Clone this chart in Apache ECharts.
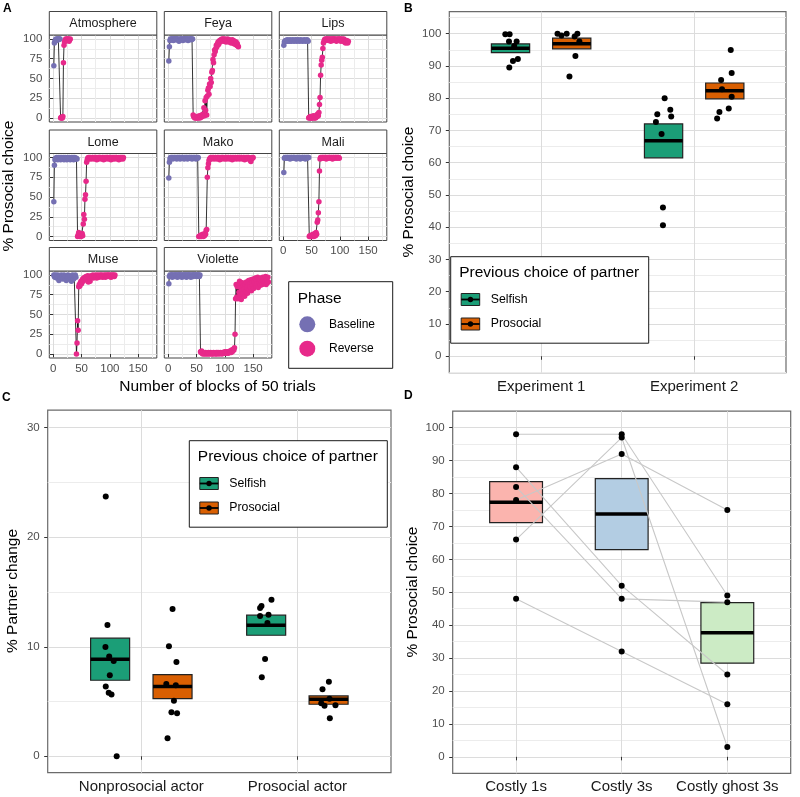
<!DOCTYPE html>
<html>
<head>
<meta charset="utf-8">
<script src="https://cdn.jsdelivr.net/npm/echarts@6.0.0/dist/echarts.min.js"></script>
<style>
  html, body { margin: 0; padding: 0; background: #fff; }
  #chart { width: 800px; height: 797px; }
</style>
</head>
<body>
<div id="chart"></div>
<script>
// ---------- A: % prosocial choice per block of 50 trials ----------
// each monkey: baseline blocks, then reverse blocks (block numbers run on)
const atmBase = [66, 95, 97, 99, 100, 98, 100, 100, 99, 100, 100, 100];
const atmRev = [0, 1, 0, 0, 2, 70, 92, 96, 98, 100, 99, 100, 98, 100, 100, 97, 99, 100];

const feyaBase = [72, 90, 98, 100, 100, 99, 100, 100, 98, 100,
  100, 100, 99, 100, 100, 100, 100, 98, 97, 99,
  100, 100, 100, 99, 100, 98, 100, 100, 100, 100,
  99, 100, 100, 100, 98, 100, 99, 100, 100, 100,
  99, 100, 100];
const feyaRev = [4, 2, 1, 0, 2, 0, 1, 0, 2, 0,
  1, 3, 0, 2, 1, 4, 2, 3, 5, 13,
  3, 22, 10, 26, 4, 28, 35, 38, 30, 43,
  40, 50, 45, 58, 60, 74, 70, 80, 86, 84,
  88, 92, 90, 94, 96, 93, 97, 98, 96, 99,
  98, 100, 99, 100, 97, 99, 100, 98, 96, 99,
  97, 100, 98, 96, 99, 97, 98, 95, 97, 99,
  96, 98, 94, 97, 95, 93, 96, 92, 94, 91,
  90];

const lipsBase = [92, 96, 97, 98, 97, 98, 99, 97, 98, 98,
  97, 99, 98, 97, 98, 98, 99, 98, 97, 98,
  98, 99, 98, 97, 98, 99, 98, 98, 97, 98,
  99, 98, 98, 97, 98, 98, 99, 98, 97, 98,
  98, 99, 98, 97];
const lipsRev = [0, 1, 0, 2, 0, 0, 1, 0, 3, 1, 0, 2, 0, 1, 4, 2, 5, 3,
  7, 17, 26, 54, 67, 73, 77, 88, 95,
  97, 99, 100, 98, 100, 99, 100, 100, 98, 99,
  100, 100, 97, 99, 100, 100, 98, 100, 99, 100,
  100, 98, 97, 99, 100, 100, 99, 98, 100, 100,
  97, 99, 100, 98, 99, 100, 96, 97, 95, 97,
  98, 96, 95, 97];

const lomeBase = [44, 90, 97, 99, 98, 100, 99, 97, 100, 98,
  99, 100, 97, 98, 100, 99, 98, 100, 97, 99,
  100, 98, 99, 97, 100, 98, 99, 100, 98, 97,
  99, 100, 98, 99, 100, 97, 98, 100, 99, 98,
  99, 98];
const lomeRev = [0, 2, 5, 1, 0, 3, 0, 2, 4, 1,
  16, 28, 22, 47, 53, 70, 94,
  97, 99, 100, 98, 100, 99, 100, 98, 99, 100,
  100, 99, 98, 100, 100, 99, 100, 97, 99, 100,
  98, 100, 100, 99, 100, 98, 99, 100, 100, 97,
  99, 100, 98, 100, 99, 100, 100, 98, 99, 100,
  100, 99, 97, 100, 98, 100, 99, 100, 98, 100,
  99, 100, 100, 98, 99, 100, 97, 99, 100, 98,
  100, 99, 100, 98, 100];

const makoBase = [74, 94, 98, 100, 99, 100, 100, 98, 100, 99,
  100, 100, 99, 100, 98, 100, 100, 99, 100, 100,
  98, 100, 99, 100, 100, 100, 99, 98, 100, 100,
  99, 100, 100, 98, 100, 99, 100, 100, 99, 100,
  100, 98, 100, 99, 100, 100, 99, 100, 98, 100,
  100, 99, 100];
const makoRev = [0, 0, 1, 0, 2, 0, 1, 3, 0, 2, 1, 4, 3, 8, 9,
  75, 87, 92,
  96, 98, 99, 100, 98, 100, 99, 100, 100, 98,
  99, 100, 100, 99, 98, 100, 100, 99, 100, 97,
  99, 100, 98, 100, 100, 99, 100, 98, 99, 100,
  100, 98, 100, 99, 100, 100, 98, 99, 100, 100,
  99, 97, 100, 100, 98, 99, 100, 100, 99, 98,
  100, 100, 99, 100, 98, 100, 99, 100, 100, 98,
  99, 100, 100, 97, 99, 100, 98, 100, 99, 100,
  100, 98, 99, 96, 95, 98, 100, 99, 100];

const maliBase = [81, 99, 100, 100, 99, 100, 100, 100, 99, 100,
  100, 98, 100, 100, 100, 99, 100, 100, 100, 100,
  99, 100, 98, 100, 100, 99, 100, 100, 100, 98,
  100, 99, 100, 100, 100, 99, 100, 100, 98, 100,
  100, 99, 100, 100, 100];
const maliRev = [0, 1, 0, 0, 2, 0, 1, 3, 0, 2, 4, 1, 5, 3,
  18, 21, 30, 44, 83,
  98, 100, 100, 99, 100, 100, 100, 99, 100, 100,
  100, 98, 100, 100, 99, 100, 100, 100, 100, 99,
  100, 100, 98, 100, 100, 100, 99, 100, 100, 100,
  99, 100, 100, 100, 99];

const museBase = [100, 98, 97, 100, 99, 96, 98, 100, 97, 93,
  99, 98, 96, 100, 97, 98, 95, 99, 100, 97,
  96, 98, 93, 99, 97, 100, 98, 96, 99, 97,
  94, 92, 98, 100, 97, 95, 99, 98, 100, 97];
const museRev = [0, 14, 42, 30, 85, 88, 86, 90, 92, 89,
  93, 95, 92, 96, 94, 97, 95, 98, 96, 97,
  99, 91, 97, 98, 92, 96, 99, 97, 98, 100,
  96, 98, 99, 97, 100, 98, 96, 99, 100, 98,
  97, 99, 100, 98, 99, 100, 97, 99, 98, 100,
  99, 97, 100, 99, 98, 100, 99, 100, 98, 99,
  100, 97, 99, 100, 98, 100, 99, 98, 100];

const violBase = [89, 98, 100, 99, 100, 100, 97, 100, 99, 100,
  98, 100, 100, 99, 100, 97, 100, 100, 98, 100,
  100, 100, 99, 97, 100, 100, 98, 100, 99, 100,
  100, 97, 100, 98, 100, 100, 99, 100, 100, 97,
  99, 100, 100, 98, 100, 100, 99, 100, 100, 98,
  100, 99, 100, 100, 98, 100];
const violRev = [3, 2, 4, 1, 0, 2, 1, 0, 1, 2,
  0, 1, 1, 0, 2, 1, 0, 1, 2, 1,
  0, 1, 0, 2, 1, 1, 0, 1, 2, 0,
  1, 2, 1, 0, 1, 2, 1, 1, 0, 2,
  1, 2, 1, 3, 2, 1, 2, 3, 2, 1,
  3, 2, 4, 3, 2, 5, 3, 4, 6, 5,
  8, 25, 70, 88,
  72, 85, 70, 88, 78, 92, 75, 84, 69, 80,
  90, 76, 86, 82, 73, 88, 79, 91, 84, 77,
  87, 93, 81, 89, 85, 94, 80, 90, 87, 95,
  83, 91, 88, 96, 86, 92, 89, 97, 84, 93,
  90, 95, 87, 96, 91, 88, 97, 93, 89, 95,
  92, 98, 88, 94, 90, 97, 91];

const aTicksX = [0, 50, 100, 150];
const aTicksY = [0, 25, 50, 75, 100];

// ---------- B: by experiment and previous choice of partner ----------
const bCats = ['Experiment 1', 'Experiment 2'];
const bSelfishStats = [[94.1, 95.5, 96.8], [61.5, 66.8, 72.0]];      // lower, middle, upper
const bProsocialStats = [[95.3, 96.9, 98.6], [79.8, 82.3, 84.7]];
const bExp1Selfish = [99.8, 99.8, 97.6, 97.6, 96.2, 92.1, 91.5, 89.5];
const bExp1SelfishJit = [-0.034, -0.006, -0.010, 0.040, 0.024, 0.048, 0.016, -0.008];
const bExp1Prosocial = [100, 99.4, 100, 100, 99.1, 97.6, 93.1, 86.7];
const bExp1ProsocialJit = [-0.093, -0.067, -0.033, 0.037, 0.019, 0.050, 0.024, -0.015];
const bExp2Selfish = [80.0, 75.0, 76.4, 72.6, 74.3, 68.9, 46.1, 40.6];
const bExp2SelfishJit = [0.007, -0.041, 0.044, -0.050, 0.050, -0.013, -0.004, -0.004];
const bExp2Prosocial = [94.9, 87.8, 85.6, 82.8, 80.4, 75.7, 76.8, 73.7];
const bExp2ProsocialJit = [0.039, 0.045, -0.024, -0.018, 0.045, -0.035, 0.026, -0.050];
const bTicksY = [0, 10, 20, 30, 40, 50, 60, 70, 80, 90, 100];

// ---------- C: % partner change ----------
const cCats = ['Nonprosocial actor', 'Prosocial actor'];
const cSelfishStats = [[6.94, 8.86, 10.78], [11.05, 11.96, 12.88]];
const cProsocialStats = [[5.26, 6.36, 7.45], [4.75, 5.21, 5.51]];
const cNonSelfish = [23.71, 11.99, 9.98, 9.10, 8.70, 7.40, 6.36, 5.81, 5.63, 0.0];
const cNonSelfishJit = [-0.028, -0.017, -0.030, -0.006, 0.023, -0.002, -0.028, -0.009, 0.009, 0.042];
const cNonProsocial = [13.45, 10.05, 8.61, 6.60, 6.48, 5.08, 4.02, 3.93, 1.64];
const cNonProsocialJit = [0.000, -0.023, 0.025, -0.040, 0.021, 0.009, -0.007, 0.029, -0.032];
const cProSelfish = [14.30, 13.73, 13.55, 12.81, 12.93, 12.17, 8.89, 7.21];
const cProSelfishJit = [0.034, -0.030, -0.039, -0.039, 0.015, 0.008, -0.007, -0.028];
const cProProsocial = [6.81, 6.12, 4.84, 4.62, 4.66, 5.26, 3.47];
const cProProsocialJit = [0.002, -0.039, -0.047, -0.026, 0.044, 0.006, 0.008];
const cTicksY = [0, 10, 20, 30];

// ---------- D: costly conditions, one line per individual ----------
const dCats = ['Costly 1s', 'Costly 3s', 'Costly ghost 3s'];
const dBoxStats = [[71.15, 77.35, 83.6], [62.95, 73.8, 84.5], [28.45, 37.66, 46.86]];
const dCostly1s = [98, 88, 82, 78, 66, 48];
const dCostly3s = [98, 52, 48, 92, 97, 32];
const dGhost3s = [49, 25, 47, 75, 3, 16];
const dTicksY = [0, 10, 20, 30, 40, 50, 60, 70, 80, 90, 100];

// ---------- styling ----------
const FONT = '"Liberation Sans", Arial, sans-serif';
const GRAY = '#4d4d4d';
const PURPLE = '#7570b3', PINK = '#e7298a';
const GREEN = '#1b9e77', ORANGE = '#d95f02';
const PASTEL = ['#fbb4ae', '#b3cde3', '#ccebc5'];

const facets = [
  { name: 'Atmosphere', base: atmBase, rev: atmRev },
  { name: 'Feya', base: feyaBase, rev: feyaRev },
  { name: 'Lips', base: lipsBase, rev: lipsRev },
  { name: 'Lome', base: lomeBase, rev: lomeRev },
  { name: 'Mako', base: makoBase, rev: makoRev },
  { name: 'Mali', base: maliBase, rev: maliRev },
  { name: 'Muse', base: museBase, rev: museRev },
  { name: 'Violette', base: violBase, rev: violRev }
];

function mkAxis(gridIndex, min, max, step, ticks, o) {
  o = o || {};
  const ax = {
    type: 'value', gridIndex: gridIndex, min: min, max: max,
    minInterval: step, maxInterval: step, splitNumber: Math.round((max - min) / step),
    axisLine: { show: false },
    axisTick: { show: !!o.labels, length: 3.5, customValues: ticks, lineStyle: { color: '#333', width: 1 } },
    axisLabel: {
      show: !!o.labels, customValues: ticks, fontSize: o.fontSize || 11.5, fontFamily: FONT,
      color: o.color || GRAY, margin: o.margin || 8
    },
    splitLine: { show: true, lineStyle: { color: '#dcdcdc', width: 1 } },
    minorTick: { show: false, splitNumber: 2 },
    minorSplitLine: { show: !!o.minor, lineStyle: { color: '#ececec', width: 1 } }
  };
  if (o.formatter) ax.axisLabel.formatter = o.formatter;
  return ax;
}

function boxRenderer(halfW, fills) {
  return function (params, api) {
    const x = api.value(0);
    const p1 = api.coord([x - halfW, api.value(3)]);
    const p2 = api.coord([x + halfW, api.value(1)]);
    const m1 = api.coord([x - halfW, api.value(2)]);
    const m2 = api.coord([x + halfW, api.value(2)]);
    return {
      type: 'group',
      children: [
        { type: 'rect', shape: { x: p1[0], y: p1[1], width: p2[0] - p1[0], height: p2[1] - p1[1] },
          style: { fill: fills[params.dataIndex % fills.length], stroke: '#222', lineWidth: 1.2 } },
        { type: 'line', shape: { x1: m1[0], y1: m1[1], x2: m2[0], y2: m2[1] },
          style: { stroke: '#000', lineWidth: 3.5 } }
      ]
    };
  };
}

function jitterPts(center, vals, jit) {
  return vals.map((v, k) => [center + jit[k], v]);
}

const grids = [], xAxes = [], yAxes = [], series = [], graphics = [];

// ---- panel A facets ----
const colLeft = [49.3, 164.3, 279.3], rowTop = [35, 153.5, 271];
const FW = 107.5, FH = 87, STRIP = 23.5;
const xLabelFacets = [5, 6, 7];

facets.forEach((f, i) => {
  const r = Math.floor(i / 3), c = i % 3;
  const left = colLeft[c], top = rowTop[r];
  grids.push({ left: left, top: top, width: FW, height: FH, show: true, backgroundColor: '#fff',
    borderColor: '#444', borderWidth: 1, containLabel: false, outerBoundsMode: 'none' });
  xAxes.push(mkAxis(i, -7, 183, 50, aTicksX, { labels: xLabelFacets.indexOf(i) >= 0, minor: true, margin: 4.5 }));
  yAxes.push(mkAxis(i, -5, 105, 25, aTicksY, { labels: c === 0, minor: true, margin: 7 }));
  const baseData = f.base.map((v, k) => [k + 1, v]);
  const revData = f.rev.map((v, k) => [f.base.length + k + 1, v]);
  series.push({ type: 'line', xAxisIndex: i, yAxisIndex: i, data: baseData.concat(revData),
    symbol: 'none', lineStyle: { color: '#000', width: 0.8 }, z: 2, silent: true });
  series.push({ type: 'scatter', name: 'Baseline', xAxisIndex: i, yAxisIndex: i, data: baseData,
    symbolSize: 5.5, itemStyle: { color: PURPLE, opacity: 1 }, z: 3, silent: true });
  series.push({ type: 'scatter', name: 'Reverse', xAxisIndex: i, yAxisIndex: i, data: revData,
    symbolSize: 5.5, itemStyle: { color: PINK, opacity: 1 }, z: 3, silent: true });
  // strip
  graphics.push({ type: 'rect', shape: { x: left, y: top - STRIP, width: FW, height: STRIP },
    style: { fill: '#fff', stroke: '#444', lineWidth: 1 }, z: 20 });
  graphics.push({ type: 'text', x: left + FW / 2, y: top - STRIP / 2 + 0.5, z: 21,
    style: { text: f.name, fontSize: 12.5, fontFamily: FONT, fill: '#1a1a1a', align: 'center', verticalAlign: 'middle' } });
});

// ---- panel B ----
const PANEL_BORDER = '#6b6b6b';
grids.push({ left: 449.3, top: 11.7, width: 336.7, height: 361, show: true, backgroundColor: '#fff',
  borderColor: PANEL_BORDER, borderWidth: 1.2, containLabel: false, outerBoundsMode: 'none' });
xAxes.push(mkAxis(8, 0.4, 2.6, 1, [1, 2], { labels: true, fontSize: 15, color: '#1a1a1a', margin: 6.5,
  formatter: v => bCats[Math.round(v) - 1] }));
yAxes.push(mkAxis(8, -5.1, 106.8, 10, bTicksY, { labels: true, minor: true, margin: 8 }));
series.push({ type: 'custom', xAxisIndex: 8, yAxisIndex: 8, renderItem: boxRenderer(0.125, [GREEN]), z: 2,
  data: bSelfishStats.map((s, k) => [k + 1 - 0.2, s[0], s[1], s[2]]), silent: true });
series.push({ type: 'custom', xAxisIndex: 8, yAxisIndex: 8, renderItem: boxRenderer(0.125, [ORANGE]), z: 2,
  data: bProsocialStats.map((s, k) => [k + 1 + 0.2, s[0], s[1], s[2]]), silent: true });
series.push({ type: 'scatter', xAxisIndex: 8, yAxisIndex: 8, symbolSize: 6, itemStyle: { color: '#000', opacity: 1 }, z: 5, silent: true,
  data: [].concat(
    jitterPts(0.8, bExp1Selfish, bExp1SelfishJit),
    jitterPts(1.2, bExp1Prosocial, bExp1ProsocialJit),
    jitterPts(1.8, bExp2Selfish, bExp2SelfishJit),
    jitterPts(2.2, bExp2Prosocial, bExp2ProsocialJit)) });

// ---- panel C ----
grids.push({ left: 47.7, top: 410.2, width: 343.3, height: 362.5, show: true, backgroundColor: '#fff',
  borderColor: PANEL_BORDER, borderWidth: 1.2, containLabel: false, outerBoundsMode: 'none' });
xAxes.push(mkAxis(9, 0.4, 2.6, 1, [1, 2], { labels: true, fontSize: 15, color: '#1a1a1a', margin: 6.5,
  formatter: v => cCats[Math.round(v) - 1] }));
yAxes.push(mkAxis(9, -1.5, 31.6, 10, cTicksY, { labels: true, minor: true, margin: 8 }));
series.push({ type: 'custom', xAxisIndex: 9, yAxisIndex: 9, renderItem: boxRenderer(0.125, [GREEN]), z: 2,
  data: cSelfishStats.map((s, k) => [k + 1 - 0.2, s[0], s[1], s[2]]), silent: true });
series.push({ type: 'custom', xAxisIndex: 9, yAxisIndex: 9, renderItem: boxRenderer(0.125, [ORANGE]), z: 2,
  data: cProsocialStats.map((s, k) => [k + 1 + 0.2, s[0], s[1], s[2]]), silent: true });
series.push({ type: 'scatter', xAxisIndex: 9, yAxisIndex: 9, symbolSize: 6, itemStyle: { color: '#000', opacity: 1 }, z: 5, silent: true,
  data: [].concat(
    jitterPts(0.8, cNonSelfish, cNonSelfishJit),
    jitterPts(1.2, cNonProsocial, cNonProsocialJit),
    jitterPts(1.8, cProSelfish, cProSelfishJit),
    jitterPts(2.2, cProProsocial, cProProsocialJit)) });

// ---- panel D ----
grids.push({ left: 452.7, top: 411.2, width: 338, height: 362.1, show: true, backgroundColor: '#fff',
  borderColor: PANEL_BORDER, borderWidth: 1.2, containLabel: false, outerBoundsMode: 'none' });
xAxes.push(mkAxis(10, 0.4, 3.6, 1, [1, 2, 3], { labels: true, fontSize: 15, color: '#1a1a1a', margin: 6.5,
  formatter: v => dCats[Math.round(v) - 1] }));
yAxes.push(mkAxis(10, -5, 105, 10, dTicksY, { labels: true, minor: true, margin: 8 }));
series.push({ type: 'custom', xAxisIndex: 10, yAxisIndex: 10, renderItem: boxRenderer(0.25, PASTEL), z: 2,
  data: dBoxStats.map((s, k) => [k + 1, s[0], s[1], s[2]]), silent: true });
dCostly1s.forEach((v, k) => {
  series.push({ type: 'line', xAxisIndex: 10, yAxisIndex: 10, symbol: 'none', z: 3, silent: true,
    lineStyle: { color: '#c8c8c8', width: 1.1 },
    data: [[1, v], [2, dCostly3s[k]], [3, dGhost3s[k]]] });
});
series.push({ type: 'scatter', xAxisIndex: 10, yAxisIndex: 10, symbolSize: 6, itemStyle: { color: '#000', opacity: 1 }, z: 5, silent: true,
  data: [].concat(dCostly1s.map(v => [1, v]), dCostly3s.map(v => [2, v]), dGhost3s.map(v => [3, v])) });

// ---- text, legends ----
function txt(x, y, s, size, o) {
  o = o || {};
  return { type: 'text', x: x, y: y, rotation: o.rot || 0, z: 30,
    style: { text: s, fontSize: size, fontFamily: FONT, fontWeight: o.bold ? 'bold' : 'normal',
      fill: o.color || '#000', align: o.align || 'center', verticalAlign: 'middle' } };
}

graphics.push(txt(3, 9, 'A', 12, { bold: true, align: 'left' }));
graphics.push(txt(404, 8.5, 'B', 12, { bold: true, align: 'left' }));
graphics.push(txt(2, 397.5, 'C', 12, { bold: true, align: 'left' }));
graphics.push(txt(404, 395.5, 'D', 12, { bold: true, align: 'left' }));

graphics.push(txt(9, 186, '% Prosocial choice', 15.5, { rot: Math.PI / 2 }));
graphics.push(txt(217.5, 386.7, 'Number of blocks of 50 trials', 15.5));
graphics.push(txt(409, 192, '% Prosocial choice', 15.5, { rot: Math.PI / 2 }));
graphics.push(txt(13, 591, '% Partner change', 15.5, { rot: Math.PI / 2 }));
graphics.push(txt(413, 592, '% Prosocial choice', 15.5, { rot: Math.PI / 2 }));

// Phase legend
graphics.push({ type: 'rect', shape: { x: 288.7, y: 281.7, width: 104, height: 86.6 },
  style: { fill: '#fff', stroke: '#1a1a1a', lineWidth: 1 }, z: 25 });
graphics.push(txt(297.7, 298.3, 'Phase', 15.5, { align: 'left' }));
graphics.push({ type: 'circle', shape: { cx: 307.3, cy: 324.3, r: 8 }, style: { fill: PURPLE }, z: 30 });
graphics.push({ type: 'circle', shape: { cx: 307.3, cy: 348.7, r: 8 }, style: { fill: PINK }, z: 30 });
graphics.push(txt(329, 324.3, 'Baseline', 12, { align: 'left' }));
graphics.push(txt(329, 348.7, 'Reverse', 12, { align: 'left' }));

function partnerLegend(x, y) {
  const out = [];
  out.push({ type: 'rect', shape: { x: x, y: y, width: 198, height: 86.5 },
    style: { fill: '#fff', stroke: '#1a1a1a', lineWidth: 1 }, z: 25 });
  out.push(txt(x + 8.5, y + 16.5, 'Previous choice of partner', 15.5, { align: 'left' }));
  [['Selfish', GREEN, 42.8], ['Prosocial', ORANGE, 67.3]].forEach(([lab, col, dy]) => {
    const kx = x + 10.5, ky = y + dy;
    out.push({ type: 'rect', shape: { x: kx, y: ky - 6, width: 18.5, height: 12 },
      style: { fill: col, stroke: '#222', lineWidth: 1 }, z: 30 });
    out.push({ type: 'line', shape: { x1: kx, y1: ky, x2: kx + 18.5, y2: ky },
      style: { stroke: '#000', lineWidth: 1.8 }, z: 31 });
    out.push({ type: 'circle', shape: { cx: kx + 9.25, cy: ky, r: 2.7 }, style: { fill: '#000' }, z: 32 });
    out.push(txt(x + 40, ky, lab, 12.3, { align: 'left' }));
  });
  return out;
}
partnerLegend(450.7, 256.7).forEach(g => graphics.push(g));
partnerLegend(189.3, 440.7).forEach(g => graphics.push(g));

const chart = echarts.init(document.getElementById('chart'), null, { renderer: 'canvas' });
chart.setOption({
  animation: false,
  backgroundColor: '#fff',
  grid: grids,
  xAxis: xAxes,
  yAxis: yAxes,
  series: series,
  graphic: { elements: graphics }
});
</script>
</body>
</html>
